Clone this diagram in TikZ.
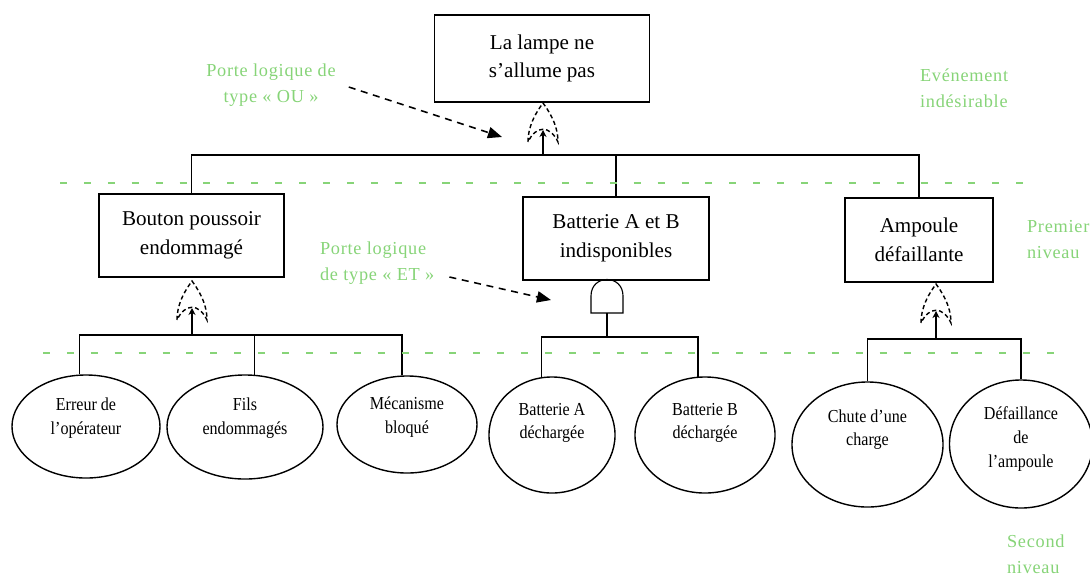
\documentclass[tikz,border=0pt]{standalone}
\usepackage{fontspec}
\setmainfont{Liberation Serif}
\newfontfamily\condfont{Liberation Serif}[FakeStretch=0.88]
\newfontfamily\notefont{Liberation Serif}[LetterSpace=4]
\usetikzlibrary{arrows.meta,shapes.geometric}
\definecolor{notegreen}{RGB}{135,212,120}

% logic gates (origin at the input side, pointing up)
\tikzset{
  orgate/.pic={
    \draw[gate line] (-15,0) .. controls (-15,-18) and (-5,-32) .. (0,-39)
        .. controls (5,-32) and (15,-18) .. (15,0)
        .. controls (7,-17) and (-7,-17) .. cycle;
    \coordinate (-in) at (0,-12);
  },
  andgate/.pic={
    \draw[line width=0.8pt] (-16,0) -- (-16,-17) .. controls (-16,-39) and (16,-39) .. (16,-17)
        -- (16,0) -- cycle;
    \coordinate (-in) at (0,0);
  }
}

\begin{document}
\begin{tikzpicture}[x=0.025cm, y=-0.025cm,
  event node/.style={rectangle, draw, line width=1.1pt, align=center, inner sep=0pt,
    font=\fontsize{15}{20.5}\selectfont},
  basic node/.style={ellipse, draw, line width=1pt, align=center, inner sep=0pt,
    text depth=15pt, font=\condfont\fontsize{13}{17}\selectfont},
  note node/.style={align=left, anchor=west, text=notegreen, inner sep=2pt,
    font=\notefont\fontsize{13}{18.5}\selectfont},
  level line/.style={notegreen, line width=0.9pt, dash pattern=on 5pt off 12pt},
  note arrow/.style={line width=1.1pt, dash pattern=on 5pt off 4pt,
    -{Triangle[length=10pt,width=8pt]}},
  tree line/.style={line width=1pt},
  gate line/.style={line width=1pt, dash pattern=on 3pt off 2pt},
  up arrow/.style={tree line, -{Stealth[length=5pt,width=5pt]}}]

\useasboundingbox (0,0) rectangle (1090,580);

% top event and first level
\node[event node, minimum width=5.375cm, minimum height=2.175cm] (top) at (542,58.5) {La lampe ne\\s’allume pas};
\node[event node, minimum width=4.625cm, minimum height=2.075cm] (bouton) at (191.5,235.5) {Bouton poussoir\\endommagé};
\node[event node, minimum width=4.65cm, minimum height=2.075cm] (batterie) at (616,238.5) {Batterie A et B\\indisponibles};
\node[event node, minimum width=3.7cm, minimum height=2.1cm] (ampoule) at (919,240) {Ampoule\\défaillante};

% basic events
\node[basic node, minimum width=3.7cm, minimum height=2.575cm] (e1) at (86,426.5) {Erreur de\\l’opérateur};
\node[basic node, minimum width=3.9cm, minimum height=2.6cm] (e2) at (245,427) {Fils\\endommagés};
\node[basic node, minimum width=3.5cm, minimum height=2.425cm, text depth=13pt] (e3) at (407,424.5) {Mécanisme\\bloqué};
\node[basic node, minimum width=3.15cm, minimum height=2.9cm, text depth=20pt] (e4) at (552,435) {Batterie A\\déchargée};
\node[basic node, minimum width=3.5cm, minimum height=2.9cm, text depth=20pt] (e5) at (705,435) {Batterie B\\déchargée};
\node[basic node, minimum width=3.775cm, minimum height=3.125cm, text depth=24pt] (e6) at (867.5,444.5) {Chute d’une\\charge};
\node[basic node, minimum width=3.575cm, minimum height=3.2cm, text depth=10pt] (e7) at (1021,444) {Défaillance\\de\\l’ampoule};

% gates
\pic (ou1) at (543,142) {orgate};
\pic (ou2) at (192,320) {orgate};
\pic (et1) at (607,313) {andgate};
\pic (ou3) at (936,323) {orgate};

\coordinate (j1) at (543,155);
\coordinate (j2) at (192,335);
\coordinate (j3) at (607,337);
\coordinate (j4) at (936,339);

% tree
\draw[tree line] (bouton.north) |- (j1) -| (ampoule.north);
\draw[tree line] (batterie.north) -- (batterie.north |- j1);
\draw[up arrow] (j1) -- (ou1-in);

\draw[tree line] (e1.97) |- (j2) -| (e3.96);
\draw[tree line] (e2.80) -- (e2.80 |- j2);
\draw[up arrow] (j2) -- (ou2-in);

\draw[tree line] (e4.100) |- (j3) -| (e5.97);
\draw[tree line] (j3) -- (et1-in);

\draw[tree line] (e6.north) |- (j4) -| (e7.north);
\draw[up arrow] (j4) -- (ou3-in);

% levels
\draw[level line] (60,183) -- (1030,183);
\draw[level line] (43,353) -- (1063,353);

% notes
\node[note node, anchor=center, align=center] (ou note) at (271,85) {Porte logique de\\type « OU »};
\node[note node] (evt note) at (917,88) {Evénement\\indésirable};
\node[note node] (n1 note) at (1024,240) {Premier\\niveau};
\node[note node] (et note) at (317,263) {Porte logique\\de type « ET »};
\node[note node] (n2 note) at (1004,554) {Second\\niveau};

\coordinate (ou target) at (502,137);
\coordinate (et target) at (551,300);
\draw[note arrow] ([shift={(10,2)}]ou note.east) -- (ou target);
\draw[note arrow] ([shift={(12,14)}]et note.east) -- (et target);

\end{tikzpicture}
\end{document}
